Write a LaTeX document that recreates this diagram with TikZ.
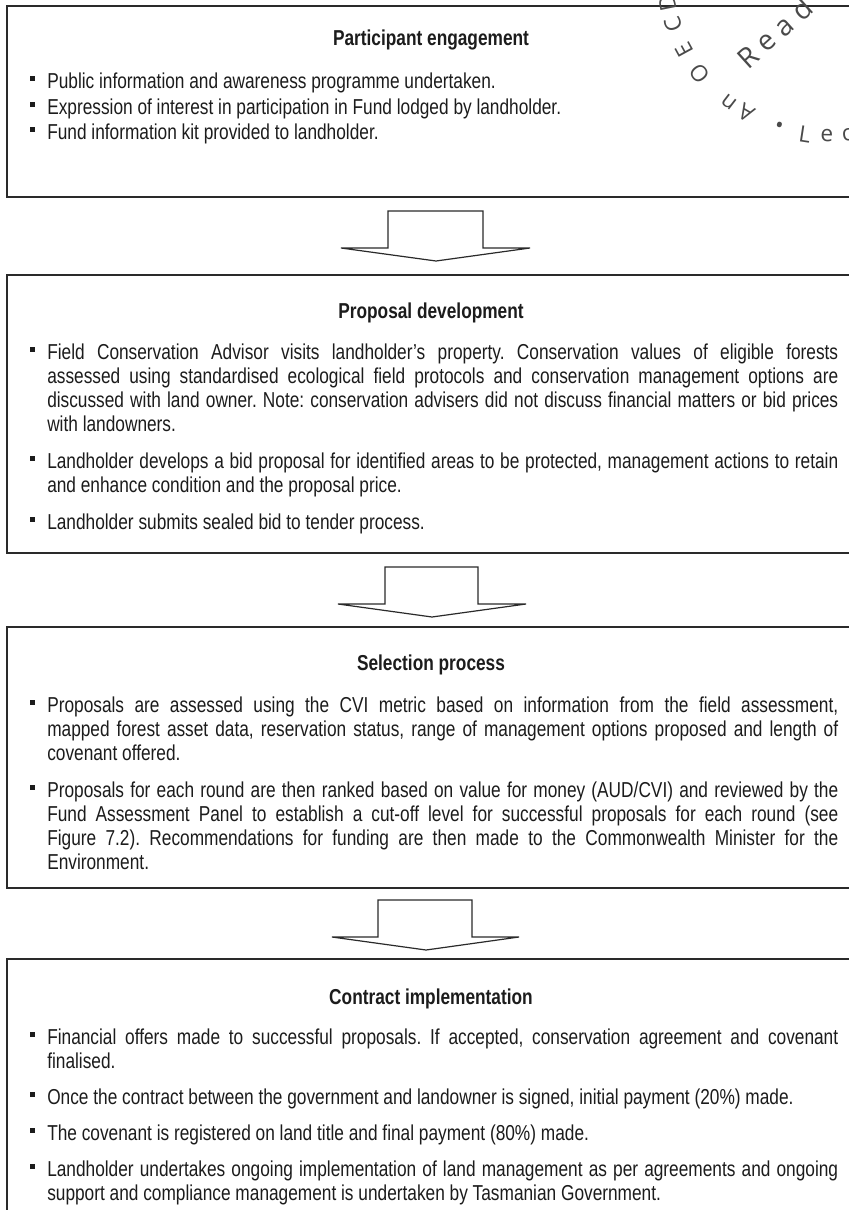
\documentclass[tikz,border=0pt]{standalone}
\usepackage{fontspec}
\newfontfamily\narrow[FakeStretch=0.80]{Liberation Sans}
\newfontfamily\wmfont{Open Sans}
\definecolor{txt}{HTML}{1C1C1C}
\definecolor{boxc}{HTML}{2A2A2A}
\definecolor{wmc}{HTML}{4A4A4A}
\newlength\jw \setlength\jw{593.25pt}
\newcommand\jl[1]{\hbox to \jw{#1}}
\frenchspacing
\tikzset{
  box/.style={draw=boxc, line width=1.5pt},
  arr/.style={draw=boxc, line width=0.9pt, line join=miter},
  ln/.style={anchor=base west, inner sep=0pt, text=txt, font=\narrow\frenchspacing\fontsize{16.2pt}{19pt}\selectfont},
  ttl/.style={anchor=base, inner sep=0pt, text=txt, font=\narrow\bfseries\fontsize{16.2pt}{19pt}\selectfont},
  bul/.style={fill=txt},
  wm/.style={inner sep=0pt, text=wmc, font=\wmfont\fontsize{17pt}{17pt}\selectfont},
  wmbig/.style={inner sep=0pt, text=wmc, font=\wmfont\fontsize{21pt}{21pt}\selectfont},
}
\newcommand\bull[1]{\fill[bul] (30,#1-12) rectangle (35,#1-7);}
\begin{document}
\begin{tikzpicture}[x=0.75pt,y=-0.75pt]
\useasboundingbox (0,0) rectangle (849,1210);
\clip (0,0) rectangle (849,1210);
\fill[white] (0,0) rectangle (849,1210);

% ---------- boxes ----------
\draw[box] (7,6) rectangle (880,197);
\draw[box] (7,275) rectangle (880,553);
\draw[box] (7,627) rectangle (880,888);
\draw[box] (7,959) rectangle (880,1240);

% ---------- block arrows ----------
\draw[arr] (341,248) -- (388,248) -- (388,211) -- (483,211) -- (483,248) -- (530,248) -- (436,261) -- cycle;
\draw[arr] (338,604) -- (385,604) -- (385,567) -- (478,567) -- (478,604) -- (526,604) -- (432,617) -- cycle;
\draw[arr] (332,937) -- (378,937) -- (378,900) -- (472,900) -- (472,937) -- (519,937) -- (426,950) -- cycle;

% ---------- box 1 ----------
\node[ttl] (t1) at (431,45) {Participant engagement};
\bull{88}\node[ln] (b1a) at (47,88) {Public information and awareness programme undertaken.};
\bull{114}\node[ln] (b1b) at (47,114) {Expression of interest in participation in Fund lodged by landholder.};
\bull{139}\node[ln] (b1c) at (47,139) {Fund information kit provided to landholder.};

% ---------- box 2 ----------
\node[ttl] (t2) at (431,318) {Proposal development};
\bull{359}\node[ln] (b2a) at (47,359) {\jl{Field Conservation Advisor visits landholder’s property. Conservation values of eligible forests}};
\node[ln] (b2b) at (47,383) {\jl{assessed using standardised ecological field protocols and conservation management options are}};
\node[ln] (b2c) at (47,407) {\jl{discussed with land owner. Note: conservation advisers did not discuss financial matters or bid prices}};
\node[ln] (b2d) at (47,431) {with landowners.};
\bull{468}\node[ln] (b2e) at (47,468) {\jl{Landholder develops a bid proposal for identified areas to be protected, management actions to retain}};
\node[ln] (b2f) at (47,492) {and enhance condition and the proposal price.};
\bull{529}\node[ln] (b2g) at (47,529) {Landholder submits sealed bid to tender process.};

% ---------- box 3 ----------
\node[ttl] (t3) at (431,670) {Selection process};
\bull{712}\node[ln] (b3a) at (47,712) {\jl{Proposals are assessed using the CVI metric based on information from the field assessment,}};
\node[ln] (b3b) at (47,736) {\jl{mapped forest asset data, reservation status, range of management options proposed and length of}};
\node[ln] (b3c) at (47,760) {covenant offered.};
\bull{797}\node[ln] (b3d) at (47,797) {\jl{Proposals for each round are then ranked based on value for money (AUD/CVI) and reviewed by the}};
\node[ln] (b3e) at (47,821) {\jl{Fund Assessment Panel to establish a cut-off level for successful proposals for each round (see}};
\node[ln] (b3f) at (47,845) {\jl{Figure 7.2). Recommendations for funding are then made to the Commonwealth Minister for the}};
\node[ln] (b3g) at (47,869) {Environment.};

% ---------- box 4 ----------
\node[ttl] (t4) at (431,1004) {Contract implementation};
\bull{1044}\node[ln] (b4a) at (47,1044) {\jl{Financial offers made to successful proposals. If accepted, conservation agreement and covenant}};
\node[ln] (b4b) at (47,1068) {finalised.};
\bull{1104}\node[ln] (b4c) at (47,1104) {Once the contract between the government and landowner is signed, initial payment (20\%) made.};
\bull{1140}\node[ln] (b4d) at (47,1140) {The covenant is registered on land title and final payment (80\%) made.};
\bull{1176}\node[ln] (b4e) at (47,1176) {\jl{Landholder undertakes ongoing implementation of land management as per agreements and ongoing}};
\node[ln] (b4f) at (47,1200) {support and compliance management is undertaken by Tasmanian Government.};

% ---------- watermark ----------
\node[wm, rotate=101.5] (wD) at (667.3,3.1) {D};
\node[wm, rotate=109.2] (wC) at (673.2,24.6) {C};
\node[wm, rotate=118.6] (wE) at (684.3,49.5) {E};
\node[wm, rotate=128.5] (wO) at (700.1,73.3) {O};
\node[wm, rotate=142.5] (wn) at (728.9,101.7) {n};
\node[wm, rotate=149.6] (wA) at (746.0,113.2) {A};
\node[wm, rotate=342] (wdot) at (778.7,127.9) {•};
\node[wm, rotate=351.3] (wL) at (804.9,134.1) {L};
\node[wm, rotate=358.9] (we) at (826.8,136.0) {e};
\node[wm, rotate=6] (wc) at (847.3,135.1) {c};
\node[wmbig, rotate=42, anchor=base west] (wread) at (748,71) {R\hspace{6pt}e\hspace{6pt}a\hspace{6pt}d};
\end{tikzpicture}
\end{document}
